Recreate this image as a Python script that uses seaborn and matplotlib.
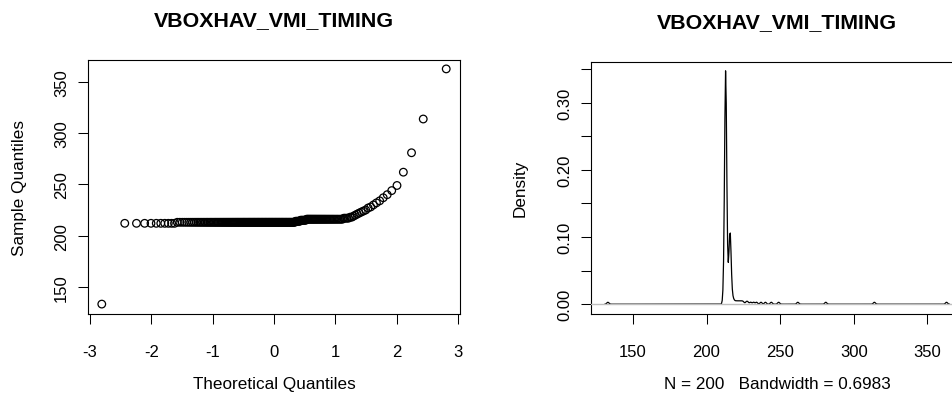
import numpy as np
import pandas as pd
import matplotlib
matplotlib.use("Agg")
import matplotlib.pyplot as plt
import seaborn as sns
from statistics import NormalDist

# Timing sample (n = 200): repeated values as level/count pairs, plus the upper tail
levels = [133, 212, 213, 214, 215, 216, 217, 218]
counts = [1, 10, 116, 6, 7, 34, 4, 2]
tail_values = [219, 220, 221, 222, 223, 224, 225, 227, 228, 230,
               232, 234, 237, 240, 244, 249, 262, 281, 314, 363]
bandwidth = 0.6983
title = "VBOXHAV_VMI_TIMING"

qq_xticks = [-3, -2, -1, 0, 1, 2, 3]
qq_yticks = [150, 200, 250, 300, 350]
dens_xticks = [150, 200, 250, 300, 350]
dens_yticks = [0.00, 0.05, 0.10, 0.15, 0.20, 0.25, 0.30, 0.35]
dens_ylabels = ["0.00", "", "0.10", "", "0.20", "", "0.30", ""]

values = np.sort(np.concatenate([np.repeat(levels, counts), tail_values]).astype(float))
n = len(values)
# R's ppoints for n > 10: (i - 0.5) / n
probs = (np.arange(1, n + 1) - 0.5) / n
theo = np.array([NormalDist().inv_cdf(p) for p in probs])
df = pd.DataFrame({"theoretical": theo, "sample": values})

sns.set_theme(style="white")
plt.rcParams["font.family"] = ["Liberation Sans", "DejaVu Sans"]
for key in ("text.color", "axes.labelcolor", "xtick.color", "ytick.color",
            "axes.edgecolor"):
    plt.rcParams[key] = "black"
plt.rcParams["axes.linewidth"] = 0.8

fig = plt.figure(figsize=(9.53, 4.06), dpi=100)
fig.patch.set_facecolor("white")

W, H = 953.0, 406.0
ax1 = fig.add_axes([88 / W, (H - 314.5) / H, 372 / W, 254 / H])
ax2 = fig.add_axes([591 / W, (H - 314.5) / H, 372.4 / W, 252 / H])

TICK_FS = 12
LABEL_FS = 12.3
TITLE_FS = 15.4

# --- Normal Q-Q plot ---
sns.scatterplot(data=df, x="theoretical", y="sample", ax=ax1,
                marker="o", s=30, facecolors="none", edgecolor="black",
                linewidth=0.9, legend=False)
xr = theo.max() - theo.min()
yr = values.max() - values.min()
ax1.set_xlim(theo.min() - 0.04 * xr, theo.max() + 0.04 * xr)
ax1.set_ylim(values.min() - 0.04 * yr, values.max() + 0.04 * yr)
ax1.set_xticks(qq_xticks)
ax1.set_xticklabels([str(t) for t in qq_xticks])
ax1.set_yticks(qq_yticks)
ax1.set_yticklabels([str(t) for t in qq_yticks])
ax1.set_xlabel("Theoretical Quantiles", fontsize=LABEL_FS)
ax1.set_ylabel("Sample Quantiles", fontsize=LABEL_FS)
ax1.xaxis.set_label_coords(0.5, (314.5 - 377) / 254)
ax1.yaxis.set_label_coords((27 - 88) / 372, 0.5)
ax1.set_title(title, fontsize=TITLE_FS, fontweight="bold", pad=25)

# --- Kernel density ---
factor = bandwidth / np.std(values, ddof=1)
sns.kdeplot(x=values, bw_method=factor, gridsize=512, cut=3,
            color="black", linewidth=0.9, ax=ax2)
gx, gy = ax2.lines[0].get_data()
ax2.axhline(0, color="#bebebe", linewidth=1.0, zorder=3)
gxr = gx.max() - gx.min()
gyr = gy.max() - gy.min()
ax2.set_xlim(gx.min() - 0.04 * gxr, gx.max() + 0.04 * gxr)
ax2.set_ylim(gy.min() - 0.04 * gyr, gy.max() + 0.04 * gyr)
ax2.set_xticks(dens_xticks)
ax2.set_xticklabels([str(t) for t in dens_xticks])
ax2.set_yticks(dens_yticks)
ax2.set_yticklabels(dens_ylabels)
ax2.set_xlabel(f"N = {n}   Bandwidth = {bandwidth:.4f}", fontsize=LABEL_FS)
ax2.set_ylabel("Density", fontsize=LABEL_FS)
ax2.xaxis.set_label_coords(0.5, (314.5 - 377) / 252)
ax2.yaxis.set_label_coords((528 - 591) / 372.4, 0.5)
ax2.set_title(title, fontsize=TITLE_FS, fontweight="bold", pad=25)

for ax in (ax1, ax2):
    ax.tick_params(axis="both", which="major", direction="out", length=7.2,
                   width=0.75, color="black", labelcolor="black",
                   labelsize=TICK_FS,
                   bottom=True, left=True, top=False, right=False)
    ax.tick_params(axis="x", pad=15)
    ax.tick_params(axis="y", pad=6.3)
    plt.setp(ax.get_yticklabels(), rotation=90, va="center", ha="right")
    for sp in ax.spines.values():
        sp.set_visible(True)
        sp.set_color("black")
        sp.set_linewidth(0.8)
    ax.grid(False)
    ax.set_facecolor("white")

fig.savefig("out.png", dpi=100, facecolor="white")
